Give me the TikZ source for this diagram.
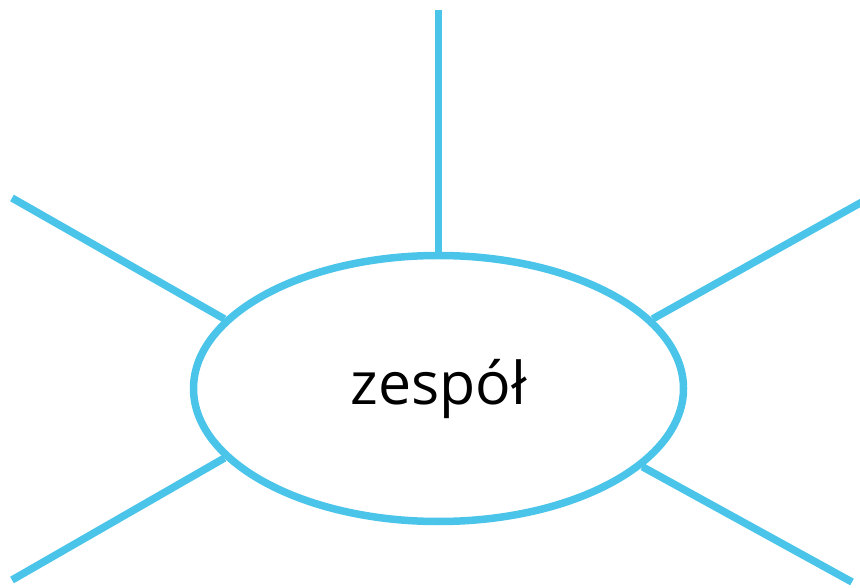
\documentclass[tikz,border=0pt]{standalone}
\usepackage{fontspec}
\setmainfont{Open Sans}
\usetikzlibrary{shapes.geometric}
\definecolor{skyline}{HTML}{4BC4EA}
\tikzset{
  spoke/.style={draw=skyline, line width=7.5pt},
  hub/.style={ellipse, draw=skyline, line width=7.5pt, fill=white,
    minimum width=490pt, minimum height=266pt, inner sep=0pt,
    font=\fontsize{59}{66}\selectfont}
}
\begin{document}
\begin{tikzpicture}[x=1pt,y=1pt]
\useasboundingbox (0,0) rectangle (860,587);
\coordinate (ctop) at (438.5,577);
\coordinate (cul) at (12,389);
\coordinate (cur) at (862,385);
\coordinate (cll) at (12,7);
\coordinate (clr) at (852,5);
\node[hub] (e) at (438.5,198.5) {\raisebox{0pt}{zespół}};
\draw[spoke] (ctop) -- (e.north);
\draw[spoke] (cul) -- (e.162.2);
\draw[spoke] (cur) -- (e.18);
\draw[spoke] (cll) -- (e.198.5);
\draw[spoke] (clr) -- (e.339.4);
\end{tikzpicture}
\end{document}
